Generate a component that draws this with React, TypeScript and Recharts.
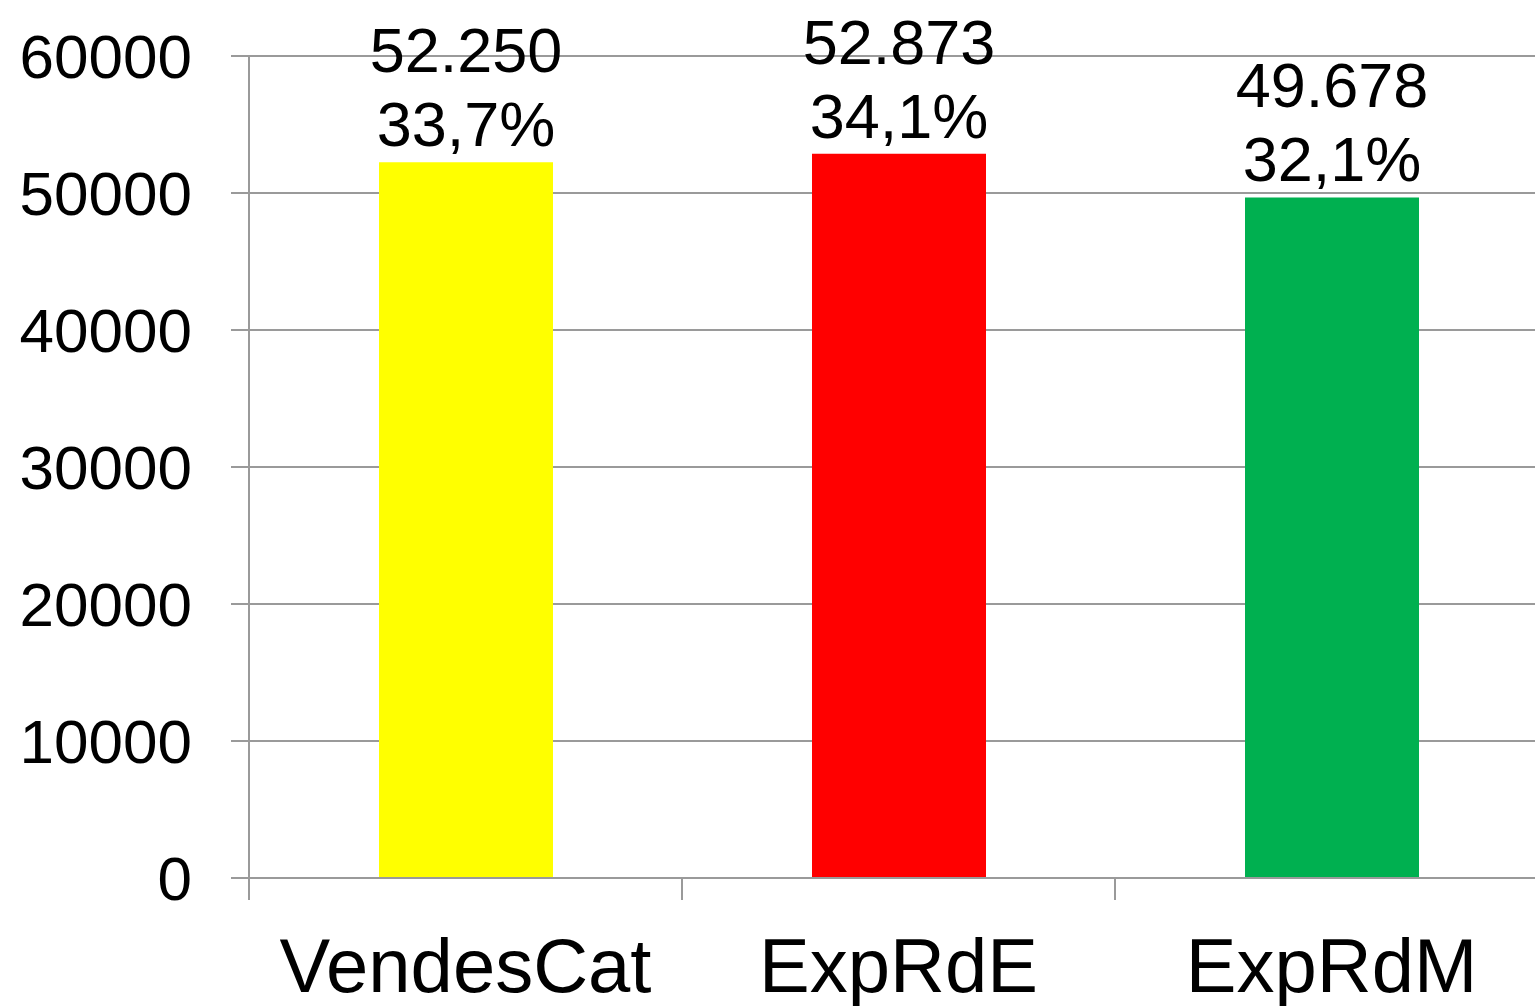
import { Bar, BarChart, CartesianGrid, Cell, LabelList, XAxis, YAxis } from 'recharts';

const categories = ['VendesCat', 'ExpRdE', 'ExpRdM'];
const values = [52250, 52873, 49678];
const shares = [33.7, 34.1, 32.1];
const colors = ['#FFFF00', '#FF0000', '#00B050'];
const yTicks = [0, 10000, 20000, 30000, 40000, 50000, 60000];

const FONT = '"Liberation Sans", Arial, sans-serif';
const GRID = '#9a9a9a';

const data = categories.map((name, i) => ({ name, value: values[i], share: shares[i] }));

const fmtValue = (v: number) => String(v).replace(/\B(?=(\d{3})+(?!\d))/g, '.');
const fmtShare = (v: number) => `${v.toFixed(1).replace('.', ',')}%`;

const CategoryTick = (props: any) => {
  const { x, y, payload } = props;
  const half = payload?.offset ?? 0;
  return (
    <g>
      <line x1={x - half} x2={x - half} y1={y} y2={y + 22} stroke={GRID} strokeWidth={2} />
      <text x={x} y={y + 114} textAnchor="middle" fontSize={76} fontFamily={FONT} fill="#000">
        {payload.value}
      </text>
    </g>
  );
};

const BarLabel = (props: any) => {
  const { x, y, width, index } = props;
  const cx = Number(x) + Number(width) / 2;
  return (
    <g>
      <text x={cx} y={Number(y) - 90} textAnchor="middle" fontSize={63} fontFamily={FONT} fill="#000">
        {fmtValue(values[index])}
      </text>
      <text x={cx} y={Number(y) - 16} textAnchor="middle" fontSize={63} fontFamily={FONT} fill="#000">
        {fmtShare(shares[index])}
      </text>
    </g>
  );
};

export default function App() {
  return (
    <div style={{ position: 'absolute', left: 0, top: 0, width: 1535, height: 1006, overflow: 'hidden', background: '#fff' }}>
      <BarChart width={1548} height={1006} data={data} margin={{ top: 56, right: 0, bottom: 0, left: 0 }}>
        <CartesianGrid vertical={false} stroke={GRID} strokeWidth={2} />
        <XAxis
          dataKey="name"
          height={128}
          tickSize={0}
          tickMargin={0}
          tickLine={false}
          axisLine={{ stroke: GRID, strokeWidth: 2 }}
          tick={<CategoryTick />}
          interval={0}
        />
        <YAxis
          width={249}
          domain={[0, 60000]}
          ticks={yTicks}
          interval={0}
          tickSize={18}
          tickMargin={39}
          tickLine={{ stroke: GRID, strokeWidth: 2 }}
          axisLine={{ stroke: GRID, strokeWidth: 2 }}
          tick={{ fill: '#000', fontSize: 62, fontFamily: FONT }}
        />
        <Bar dataKey="value" barSize={174} isAnimationActive={false}>
          {data.map((d, i) => (
            <Cell key={d.name} fill={colors[i]} />
          ))}
          <LabelList dataKey="value" content={<BarLabel />} />
        </Bar>
      </BarChart>
    </div>
  );
}
